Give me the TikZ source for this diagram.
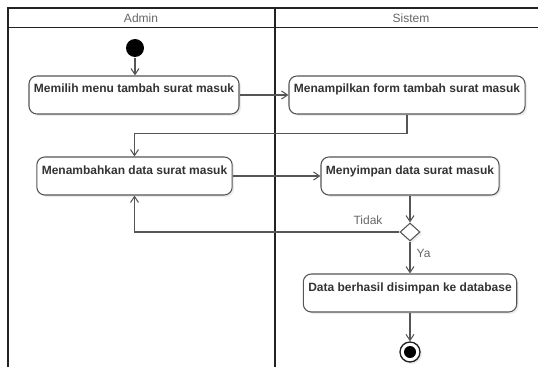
\documentclass[tikz,border=0pt]{standalone}
\usepackage{fontspec}
\setmainfont{Liberation Sans}
\usetikzlibrary{arrows.meta,shapes.geometric,shadows}
\definecolor{lanegray}{HTML}{222222}
\definecolor{linegray}{HTML}{555555}
\definecolor{textgray}{HTML}{333333}
\definecolor{headgray}{HTML}{666666}
\tikzset{>/.tip={Straight Barb[length=4.5pt,width=6pt]},
  softshadow/.style={drop shadow={shadow xshift=1.5pt,shadow yshift=-1.5pt,opacity=0.15}},
  action/.style={draw=linegray, rounded corners=6pt, fill=white, softshadow,
    font=\bfseries\fontsize{9pt}{11pt}\selectfont, text=textgray,
    inner xsep=3.75pt, inner ysep=0pt, text height=12.75pt, text depth=15.75pt},
  lanehead/.style={font=\fontsize{9pt}{11pt}\selectfont, text=headgray},
  guard/.style={font=\fontsize{9pt}{11pt}\selectfont, text=headgray},
  startnode/.style={circle, fill=black, minimum size=13.5pt, inner sep=0pt},
  endnode/.style={circle, draw=lanegray, line width=1pt, fill=white, softshadow,
    minimum size=15pt, inner sep=0pt,
    path picture={\fill[black] (path picture bounding box.center) circle (4.5pt);}},
  choice/.style={diamond, draw=linegray, fill=white, softshadow,
    minimum width=15pt, minimum height=13.5pt, inner sep=0pt}}
\begin{document}
\begin{tikzpicture}[x=0.75pt, y=-0.75pt, line width=0.8pt]
 \useasboundingbox (0,0) rectangle (538,367);
 \draw[lanegray, line width=1.5pt] (7.5,367) -- (7.5,8) -- (538,8);
 \draw[lanegray, line width=1.2pt] (7.5,27.5) -- (538,27.5);
 \draw[lanegray, line width=1.5pt] (274.5,8) -- (274.5,367);
 \node[lanehead] (admin)  at (141, 18) {Admin};
 \node[lanehead] (sistem) at (411, 18) {Sistem};

 \node[startnode] (start)  at (135, 48) {};
 \node[action]    (menu)   at (134, 95) {Memilih menu tambah surat masuk};
 \node[action]    (form)   at (407, 95) {Menampilkan form tambah surat masuk};
 \node[action]    (tambah) at (134.5, 176) {Menambahkan data surat masuk};
 \node[action]    (simpan) at (410, 176) {Menyimpan data surat masuk};
 \node[choice]    (cek)    at (410, 232) {};
 \node[action]    (sukses) at (410, 293) {Data berhasil disimpan ke database};
 \node[endnode]   (end)    at (410, 352) {};

 \path[->, draw=linegray] (start) edge (start |- menu.north);
 \path[->, draw=linegray] (menu) edge (form);
 \draw[->, linegray] (form.south) -- ++(0, 19) -| (tambah.north);
 \path[->, draw=linegray] (tambah) edge (simpan);
 \path[->, draw=linegray] (simpan) edge (cek);
 \draw[->, linegray] (cek.west) -| node[guard, pos=0, above left, xshift=-9pt, yshift=1.9pt] {Tidak} (tambah.south);
 \draw[->, linegray] (cek) -- node[guard, pos=0, anchor=north west, xshift=1.3pt, yshift=-2pt] {Ya} (sukses);
 \path[->, draw=linegray] (sukses) edge (end);
\end{tikzpicture}
\end{document}
